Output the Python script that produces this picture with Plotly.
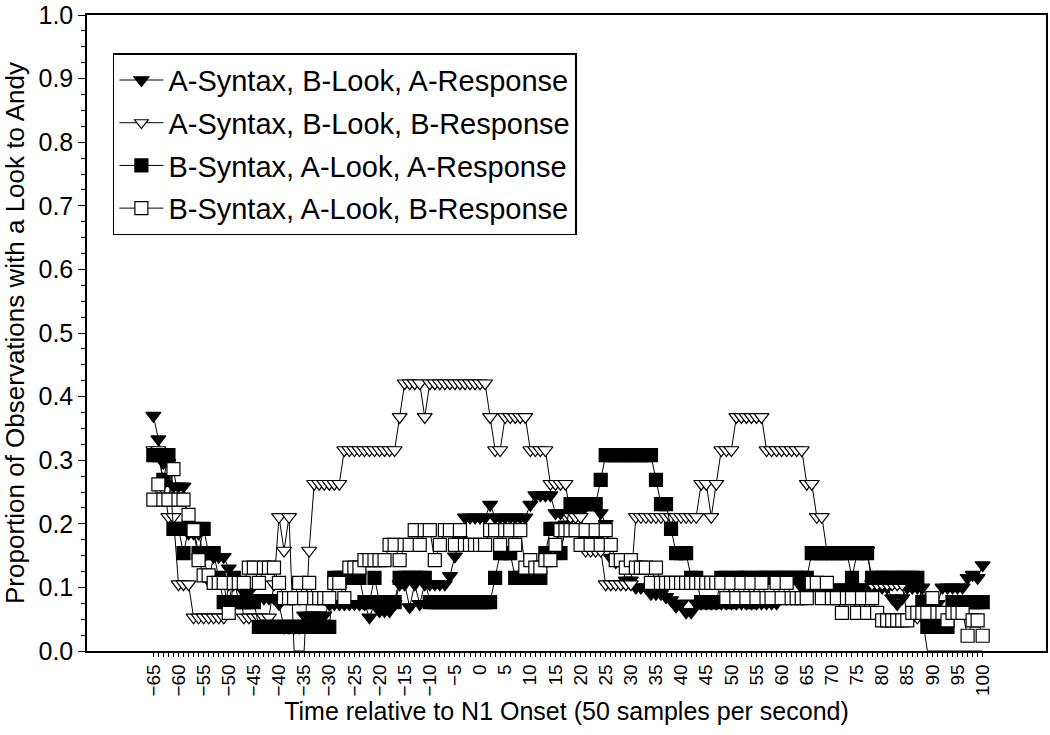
import plotly.graph_objects as go

# Time relative to N1 onset (samples, 50 per second)
time = list(range(-65, 101))

# A-Syntax, B-Look, A-Response (filled down-triangles)
a_b_a = [
    0.370, 0.333, 0.296, 0.296, 0.259, 0.259, 0.259, 0.185, 0.185, 0.185,  # -65..-56
    0.148, 0.111, 0.148, 0.148, 0.148, 0.130, 0.111, 0.111, 0.093, 0.093,  # -55..-46
    0.083, 0.083, 0.083, 0.083, 0.083, 0.074, 0.037, 0.037, 0.037, 0.037,  # -45..-36
    0.056, 0.056, 0.056, 0.056, 0.056, 0.074, 0.074, 0.074, 0.074, 0.074,  # -35..-26
    0.074, 0.074, 0.074, 0.053, 0.074, 0.063, 0.063, 0.063, 0.074, 0.105,  # -25..-16
    0.105, 0.069, 0.105, 0.074, 0.105, 0.105, 0.105, 0.105, 0.105, 0.118,  # -15..-6
    0.149, 0.175, 0.210, 0.210, 0.210, 0.210, 0.210, 0.230, 0.210, 0.210,  # -5..4
    0.210, 0.210, 0.210, 0.210, 0.210, 0.230, 0.245, 0.245, 0.245, 0.245,  # 5..14
    0.217, 0.217, 0.199, 0.217, 0.217, 0.217, 0.175, 0.162, 0.175, 0.217,  # 15..24
    0.200, 0.147, 0.140, 0.140, 0.111, 0.111, 0.100, 0.100, 0.100, 0.090,  # 25..34
    0.090, 0.090, 0.085, 0.080, 0.070, 0.075, 0.061, 0.061, 0.075, 0.075,  # 35..44
    0.075, 0.075, 0.075, 0.075, 0.075, 0.075, 0.075, 0.075, 0.075, 0.075,  # 45..54
    0.075, 0.075, 0.075, 0.075, 0.075, 0.083, 0.083, 0.083, 0.083, 0.100,  # 55..64
    0.100, 0.100, 0.100, 0.100, 0.100, 0.100, 0.100, 0.100, 0.100, 0.100,  # 65..74
    0.100, 0.100, 0.100, 0.100, 0.100, 0.100, 0.100, 0.083, 0.074, 0.083,  # 75..84
    0.100, 0.100, 0.100, 0.100, 0.083, 0.074, 0.074, 0.100, 0.100, 0.100,  # 85..94
    0.100, 0.100, 0.115, 0.120, 0.115, 0.135,                              # 95..100
]

# A-Syntax, B-Look, B-Response (open down-triangles)
a_b_b = [
    0.316, 0.316, 0.263, 0.211, 0.211, 0.105, 0.105, 0.105, 0.053, 0.053,  # -65..-56
    0.053, 0.053, 0.053, 0.053, 0.053, 0.105, 0.105, 0.105, 0.053, 0.053,  # -55..-46
    0.053, 0.053, 0.053, 0.053, 0.105, 0.211, 0.158, 0.211, 0.000, 0.000,  # -45..-36
    0.000, 0.158, 0.263, 0.263, 0.263, 0.263, 0.263, 0.263, 0.316, 0.316,  # -35..-26
    0.316, 0.316, 0.316, 0.316, 0.316, 0.316, 0.316, 0.316, 0.316, 0.368,  # -25..-16
    0.421, 0.421, 0.421, 0.421, 0.368, 0.421, 0.421, 0.421, 0.421, 0.421,  # -15..-6
    0.421, 0.421, 0.421, 0.421, 0.421, 0.421, 0.421, 0.368, 0.316, 0.316,  # -5..4
    0.368, 0.368, 0.368, 0.368, 0.368, 0.316, 0.316, 0.316, 0.316, 0.263,  # 5..14
    0.263, 0.263, 0.263, 0.211, 0.211, 0.211, 0.158, 0.158, 0.158, 0.158,  # 15..24
    0.105, 0.105, 0.105, 0.105, 0.105, 0.105, 0.211, 0.211, 0.211, 0.211,  # 25..34
    0.211, 0.211, 0.211, 0.211, 0.211, 0.211, 0.211, 0.211, 0.211, 0.263,  # 35..44
    0.263, 0.211, 0.263, 0.316, 0.316, 0.316, 0.368, 0.368, 0.368, 0.368,  # 45..54
    0.368, 0.368, 0.316, 0.316, 0.316, 0.316, 0.316, 0.316, 0.316, 0.316,  # 55..64
    0.263, 0.263, 0.211, 0.211, 0.158, 0.158, 0.158, 0.158, 0.158, 0.158,  # 65..74
    0.158, 0.158, 0.158, 0.105, 0.105, 0.105, 0.105, 0.105, 0.105, 0.105,  # 75..84
    0.053, 0.053, 0.053, 0.053, 0.000, 0.000, 0.000, 0.000, 0.000, 0.000,  # 85..94
    0.000, 0.000, 0.000, 0.000, 0.000, 0.000,                              # 95..100
]

# B-Syntax, A-Look, A-Response (filled squares)
b_a_a = [
    0.308, 0.308, 0.269, 0.308, 0.192, 0.192, 0.154, 0.192, 0.192, 0.154,  # -65..-56
    0.192, 0.154, 0.154, 0.115, 0.077, 0.077, 0.115, 0.077, 0.077, 0.077,  # -55..-46
    0.077, 0.038, 0.038, 0.038, 0.038, 0.038, 0.038, 0.038, 0.038, 0.038,  # -45..-36
    0.038, 0.038, 0.038, 0.038, 0.038, 0.038, 0.115, 0.115, 0.115, 0.115,  # -35..-26
    0.115, 0.115, 0.077, 0.077, 0.115, 0.077, 0.077, 0.077, 0.077, 0.115,  # -25..-16
    0.115, 0.115, 0.115, 0.115, 0.115, 0.077, 0.077, 0.077, 0.077, 0.077,  # -15..-6
    0.077, 0.077, 0.077, 0.077, 0.077, 0.077, 0.077, 0.077, 0.115, 0.154,  # -5..4
    0.154, 0.154, 0.115, 0.115, 0.115, 0.115, 0.115, 0.115, 0.154, 0.192,  # 5..14
    0.192, 0.154, 0.192, 0.231, 0.231, 0.231, 0.231, 0.231, 0.231, 0.269,  # 15..24
    0.308, 0.308, 0.308, 0.308, 0.308, 0.308, 0.308, 0.308, 0.308, 0.308,  # 25..34
    0.269, 0.231, 0.231, 0.192, 0.154, 0.154, 0.154, 0.115, 0.115, 0.077,  # 35..44
    0.077, 0.077, 0.077, 0.115, 0.115, 0.077, 0.115, 0.115, 0.115, 0.077,  # 45..54
    0.115, 0.115, 0.115, 0.115, 0.115, 0.115, 0.115, 0.115, 0.115, 0.115,  # 55..64
    0.115, 0.154, 0.154, 0.154, 0.154, 0.154, 0.154, 0.154, 0.154, 0.115,  # 65..74
    0.154, 0.154, 0.154, 0.115, 0.115, 0.115, 0.115, 0.115, 0.115, 0.115,  # 75..84
    0.115, 0.115, 0.115, 0.077, 0.038, 0.038, 0.038, 0.038, 0.038, 0.077,  # 85..94
    0.077, 0.077, 0.077, 0.077, 0.077, 0.077,                              # 95..100
]

# B-Syntax, A-Look, B-Response (open squares)
b_a_b = [
    0.238, 0.262, 0.238, 0.238, 0.286, 0.238, 0.238, 0.214, 0.190, 0.143,  # -65..-56
    0.119, 0.119, 0.107, 0.107, 0.107, 0.060, 0.107, 0.107, 0.107, 0.131,  # -55..-46
    0.131, 0.107, 0.131, 0.131, 0.131, 0.107, 0.083, 0.083, 0.083, 0.107,  # -45..-36
    0.083, 0.107, 0.083, 0.083, 0.083, 0.083, 0.107, 0.107, 0.083, 0.131,  # -35..-26
    0.131, 0.131, 0.143, 0.143, 0.143, 0.143, 0.143, 0.167, 0.167, 0.143,  # -25..-16
    0.167, 0.167, 0.190, 0.167, 0.190, 0.190, 0.143, 0.167, 0.190, 0.190,  # -15..-6
    0.167, 0.190, 0.167, 0.167, 0.167, 0.167, 0.167, 0.190, 0.190, 0.167,  # -5..4
    0.190, 0.190, 0.167, 0.190, 0.131, 0.143, 0.131, 0.131, 0.143, 0.143,  # 5..14
    0.167, 0.190, 0.190, 0.190, 0.190, 0.167, 0.190, 0.167, 0.190, 0.167,  # 15..24
    0.190, 0.167, 0.143, 0.143, 0.131, 0.143, 0.131, 0.131, 0.131, 0.107,  # 25..34
    0.131, 0.107, 0.107, 0.107, 0.107, 0.107, 0.107, 0.107, 0.107, 0.107,  # 35..44
    0.107, 0.107, 0.107, 0.107, 0.083, 0.107, 0.083, 0.107, 0.083, 0.107,  # 45..54
    0.083, 0.107, 0.083, 0.083, 0.107, 0.083, 0.107, 0.083, 0.083, 0.083,  # 55..64
    0.083, 0.107, 0.107, 0.083, 0.107, 0.083, 0.083, 0.060, 0.083, 0.083,  # 65..74
    0.060, 0.083, 0.060, 0.083, 0.060, 0.048, 0.048, 0.048, 0.048, 0.048,  # 75..84
    0.048, 0.060, 0.060, 0.060, 0.060, 0.083, 0.060, 0.060, 0.048, 0.060,  # 85..94
    0.060, 0.060, 0.024, 0.048, 0.048, 0.024,                              # 95..100
]

series_names = [
    "A-Syntax, B-Look, A-Response",
    "A-Syntax, B-Look, B-Response",
    "B-Syntax, A-Look, A-Response",
    "B-Syntax, A-Look, B-Response",
]

x_tick_vals = list(range(-65, 101, 5))
x_tick_text = [("\u2212" + str(-v)) if v < 0 else str(v) for v in x_tick_vals]

y_tick_vals = [0.0, 0.1, 0.2, 0.3, 0.4, 0.5, 0.6, 0.7, 0.8, 0.9, 1.0]
y_tick_text = ["0.0", "0.1", "0.2", "0.3", "0.4", "0.5", "0.6", "0.7", "0.8", "0.9", "1.0"]

FONT = "Liberation Sans, Arial, Helvetica, sans-serif"

styles = [
    dict(symbol="triangle-down", color="black", size=13),
    dict(symbol="triangle-down", color="white", size=13),
    dict(symbol="square", color="black", size=13),
    dict(symbol="square", color="white", size=13),
]

fig = go.Figure()
for i, (name, ys, st) in enumerate(zip(series_names, [a_b_a, a_b_b, b_a_a, b_a_b], styles)):
    sizes = [0 if v == 0 else st["size"] for v in ys]
    fig.add_trace(go.Scatter(
        x=time, y=ys, name=name, mode="lines+markers",
        legendgroup=f"g{i}",
        line=dict(color="black", width=1),
        marker=dict(symbol=st["symbol"], color=st["color"], size=sizes,
                    opacity=1, line=dict(color="black", width=1.2)),
    ))

fig.update_layout(
    template="none",
    width=1050, height=735,
    margin=dict(l=87, r=4, t=15, b=84, autoexpand=False),
    plot_bgcolor="white", paper_bgcolor="white",
    font=dict(family=FONT, color="black"),
    showlegend=True,
    legend=dict(
        x=0.027, y=0.94, xanchor="left", yanchor="top",
        bgcolor="white", bordercolor="black", borderwidth=1.5,
        font=dict(family=FONT, size=29, color="black"),
        tracegroupgap=2, itemwidth=44,
    ),
    xaxis=dict(
        automargin=False,
        range=[-78.2, 112.6],
        showline=True, linecolor="black", linewidth=1.5, mirror=True,
        showgrid=False, zeroline=False,
        tickmode="array", tickvals=x_tick_vals, ticktext=x_tick_text,
        ticks="outside", ticklen=4, tickwidth=1, tickcolor="black",
        tickangle=-90, tickfont=dict(family=FONT, size=19, color="black"),
        minor=dict(tickmode="array", tickvals=time, ticks="outside",
                   ticklen=4, tickwidth=1, tickcolor="black", showgrid=False),
        title=dict(text="Time relative to N1 Onset (50 samples per second)",
                   font=dict(family=FONT, size=25, color="black"), standoff=4),
    ),
    yaxis=dict(
        automargin=False,
        range=[0, 1],
        showline=True, linecolor="black", linewidth=1.5, mirror=True,
        showgrid=False, zeroline=False,
        tickmode="array", tickvals=y_tick_vals, ticktext=y_tick_text,
        ticklabeloverflow="allow",
        ticks="outside", ticklen=7, tickwidth=1, tickcolor="black",
        tickfont=dict(family=FONT, size=25, color="black"),
        minor=dict(tickmode="linear", tick0=0, dtick=0.025, ticks="outside", ticklen=4,
                   tickwidth=1, tickcolor="black", showgrid=False),
        title=dict(text="Proportion of Observations with a Look to Andy",
                   font=dict(family=FONT, size=26, color="black"), standoff=12),
    ),
)

# remove the browser's default page margin so the figure sits at the page origin
fig.write_html("out.html", config={"displayModeBar": False},
               post_script="document.body.style.margin='0';")
